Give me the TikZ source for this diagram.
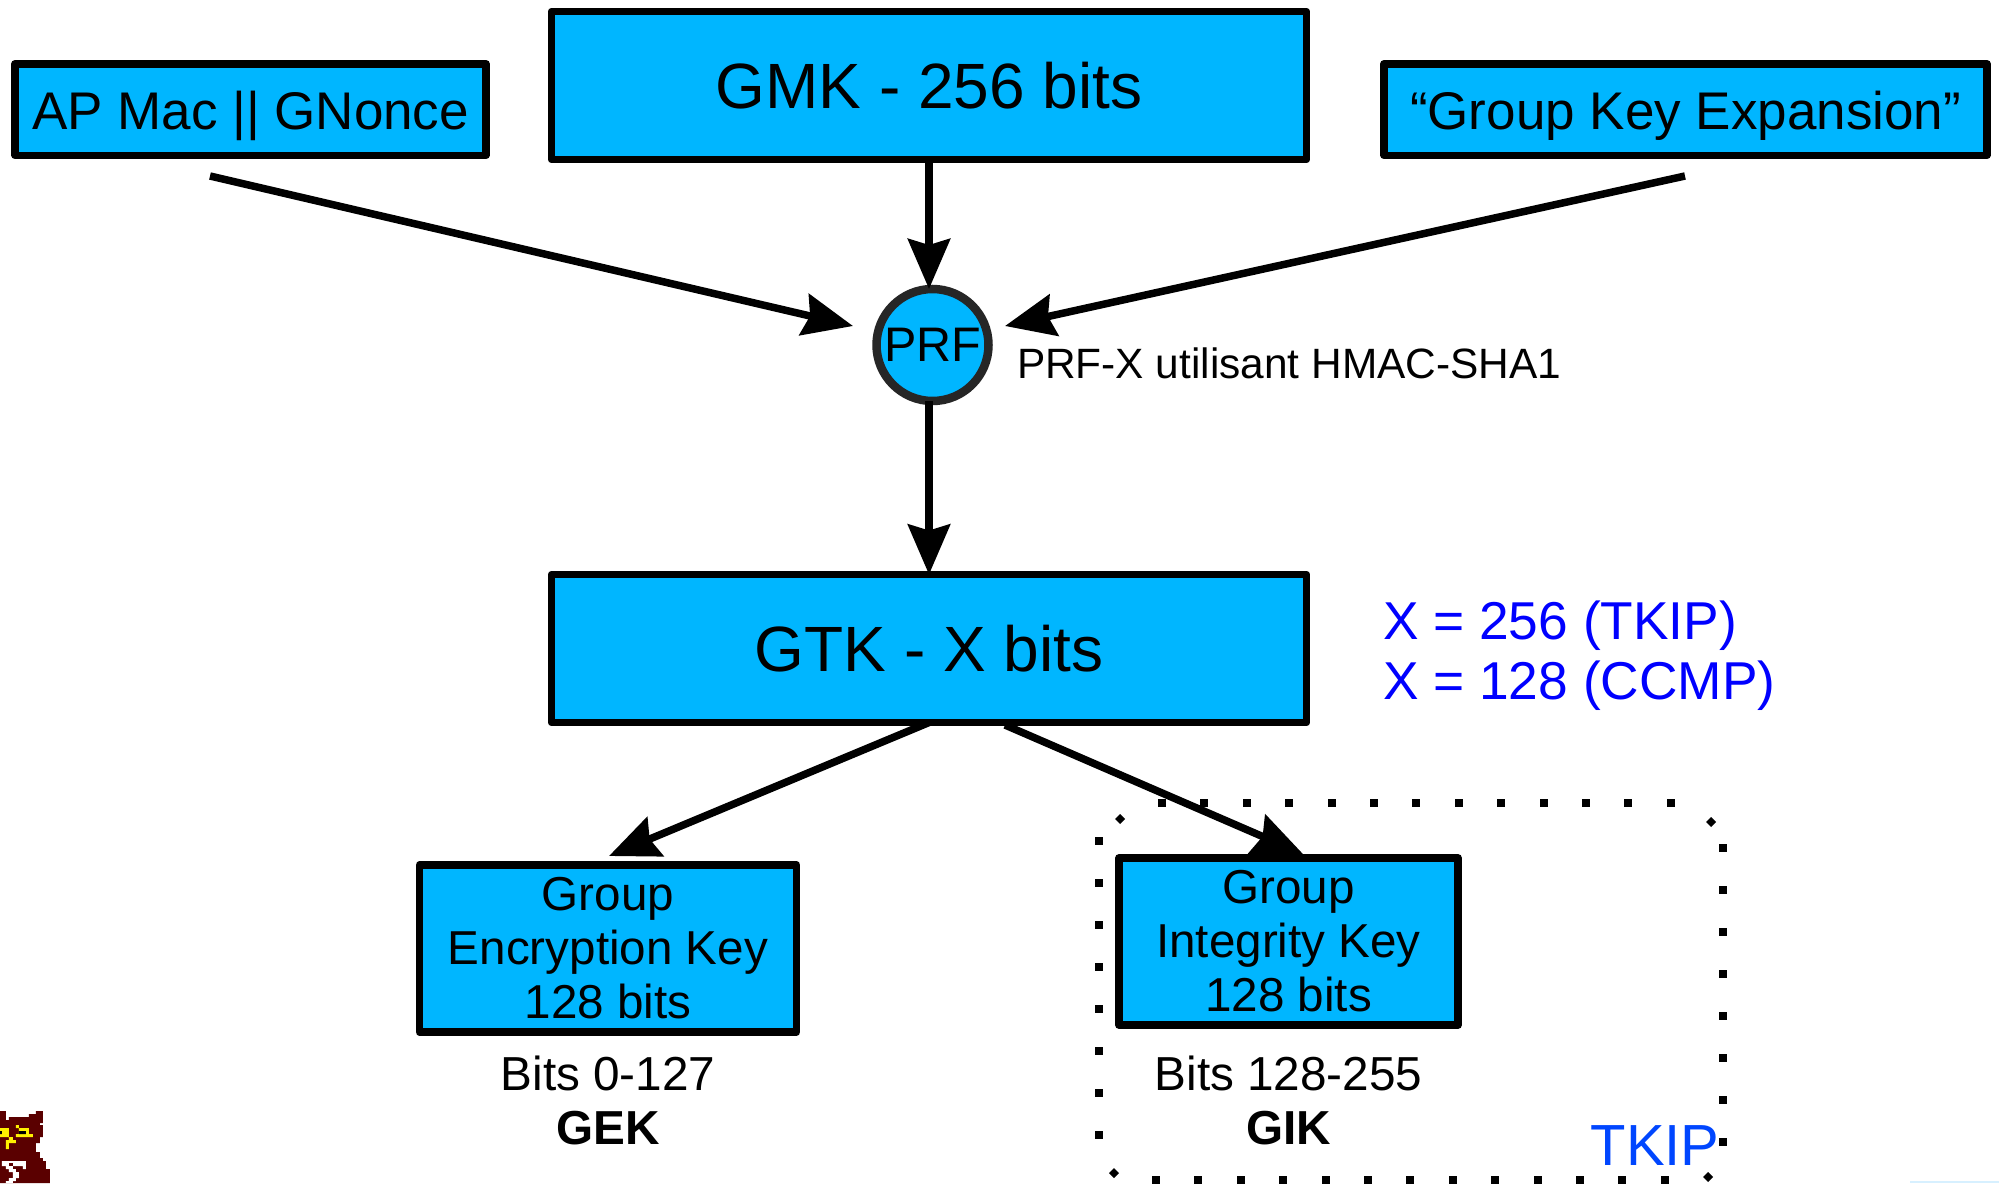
\documentclass[tikz,border=0pt]{standalone}
\usepackage{fontspec}
\setmainfont{Liberation Sans}
\usetikzlibrary{arrows.meta}
\definecolor{keyblue}{RGB}{0,182,255}
\definecolor{noteblue}{RGB}{0,0,255}
\definecolor{tkipblue}{RGB}{0,70,255}
\definecolor{owlred}{RGB}{90,0,0}
\definecolor{owlyellow}{RGB}{255,240,0}
\definecolor{paleblue}{RGB}{215,240,255}
\newcommand{\fs}[1]{\fontsize{#1}{54}\selectfont}
\begin{document}
\begin{tikzpicture}[x=1pt,y=-1pt,
  keybox/.style={draw=black,fill=keyblue,line width=7.5pt,line join=round,inner sep=0pt,outer sep=0pt,align=center,text=black},
  prfnode/.style={circle,draw=black!85,fill=keyblue,line width=8.5pt,inner sep=0pt,outer sep=0pt,minimum size=112pt},
  flow/.style={draw=black,line width=7.5pt,-{Stealth[length=50pt,width=42pt,inset=6pt]}},
  plain/.style={inner sep=0pt,outer sep=0pt,align=center},
  dotmark/.style={fill=black,draw=none}]
\useasboundingbox (0,0) rectangle (1999,1183);
\fill[white] (0,0) rectangle (1999,1183);
\fill[paleblue] (1910,1181) rectangle (1999,1183);

% boxes
\node[keybox,minimum width=755pt,minimum height=148pt,font=\fs{64}] (gmk) at (929,85.5) {GMK - 256 bits};
\node[keybox,minimum width=471pt,minimum height=91.5pt,font=\fs{53}] (ap) at (250.5,109.5) {\raisebox{-20pt}[0pt][0pt]{AP Mac || GNonce}};
\node[keybox,minimum width=603pt,minimum height=91.5pt,font=\fs{53}] (gke) at (1685.5,109.5) {\raisebox{-20pt}[0pt][0pt]{“Group Key Expansion”}};
\node[prfnode,font=\fs{48.5}] (prf) at (932.5,345) {PRF};
\node[plain,font=\fs{42.4},anchor=west] (prfnote) at (1017,363) {PRF-X utilisant HMAC-SHA1};
\node[keybox,minimum width=755pt,minimum height=148pt,font=\fs{64}] (gtk) at (929,648.5) {GTK - X bits};
\node[plain,align=left,text=noteblue,font=\fs{53.3},anchor=north west] (xnote) at (1383,601) {X = 256 (TKIP)\\[6pt]X = 128 (CCMP)};
\node[keybox,minimum width=377pt,minimum height=167pt,font=\fs{47.6}] (gek) at (608,948.5) {Group\\Encryption Key\\128 bits};
\node[keybox,minimum width=339pt,minimum height=167pt,font=\fs{47.6}] (gik) at (1288.5,941.5) {Group\\Integrity Key\\128 bits};
\node[plain,font=\fs{47.7}] (gekl) at (608,1100.5) {Bits 0-127\\\textbf{GEK}};
\node[plain,font=\fs{47.7}] (gikl) at (1288.5,1100.5) {Bits 128-255\\\textbf{GIK}};
\node[plain,text=tkipblue,font=\fs{58}] (tkip) at (1655,1146) {TKIP};

% free connector ends
\coordinate (apout) at (210,176);
\coordinate (prfw) at (853,326);
\coordinate (gkeout) at (1685,176);
\coordinate (prfe) at (1005,326);
\coordinate (gekin) at (609,856);
\coordinate (gtkr) at (1005,725);
\coordinate (gikin) at (1303,854);

% connectors
\draw[flow] (apout) -- (prfw);
\draw[flow] (gkeout) -- (prfe);
\draw[flow] (gmk.south) -- (gmk.south |- prf.north);
\draw[flow] (gmk.south |- prf.south) -- (gtk.north);
\draw[flow] (gtk.south) -- (gekin);
\draw[flow] (gtkr) -- (gikin);

% dotted TKIP frame
\foreach \i in {0,...,12} {
  \fill[dotmark] ({1162+42.4*\i-4},799) rectangle ++(8,8);
  \fill[dotmark] ({1156+42.4*\i-4},1176) rectangle ++(8,8);
}
\foreach \i in {0,...,7} {
  \fill[dotmark] (1095,{841+42*\i-4}) rectangle ++(8,8);
  \fill[dotmark] (1719,{848+42*\i-4}) rectangle ++(8,8);
}
\foreach \p in {(1120,819),(1711,822),(1114,1173),(1708,1177)} {
  \fill[dotmark] \p ++(-5,0) -- ++(5,-5) -- ++(5,5) -- ++(-5,5) -- cycle;
}

% owl icon
\begin{scope}[yshift=-1080pt,x=0.33333pt,y=-0.33333pt]
  \fill[owlred] (0,93) -- (18,93) -- (18,120) -- (27,120) -- (27,111) -- (87,111) -- (87,102) -- (108,102) -- (108,93) -- (129,93) -- (129,129) -- (120,129) -- (120,135) -- (129,135) -- (129,171) -- (120,171) -- (120,189) -- (108,189) -- (108,216) -- (120,216) -- (120,234) -- (129,234) -- (129,243) -- (138,243) -- (138,267) -- (150,267) -- (150,309) -- (0,309) -- cycle;
  \fill[owlyellow] (0,144) rectangle (27,171) (48,135) rectangle (57,144) (57,144) rectangle (87,162) (48,162) rectangle (99,171) (27,171) rectangle (39,180) (18,180) rectangle (48,189) (18,189) rectangle (27,207);
  \fill[black] (0,153) rectangle (6,162) (57,153) rectangle (78,162);
  \fill[white] (6,243) rectangle (78,258) (69,258) rectangle (78,267) (18,258) rectangle (39,267) (27,267) rectangle (48,276) (39,276) rectangle (57,294) (27,294) rectangle (48,303) (18,303) rectangle (39,309);
  \fill[owlred] (27,249) rectangle (39,258);
\end{scope}
\end{tikzpicture}
\end{document}
